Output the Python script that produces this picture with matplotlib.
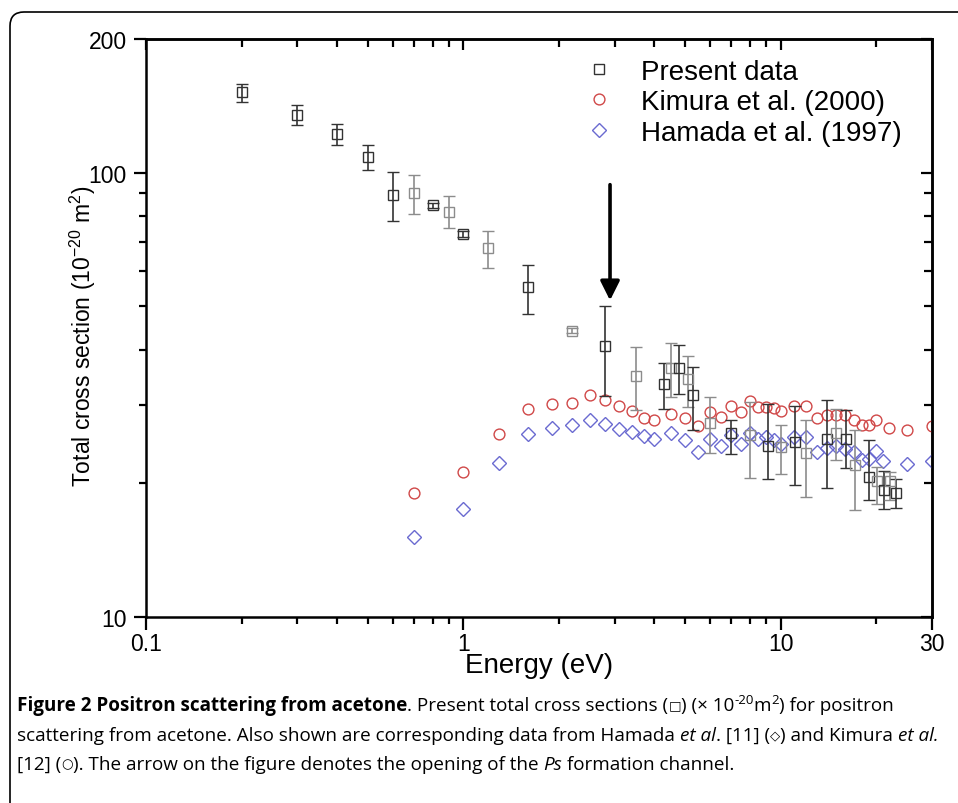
import matplotlib
matplotlib.use('Agg')
import numpy as np
import matplotlib.pyplot as plt
from matplotlib.patches import FancyBboxPatch
from matplotlib.lines import Line2D
from matplotlib.transforms import IdentityTransform

# present data (energy eV, cross section 1e-20 m^2, lower / upper error)
present_e = [0.2, 0.3, 0.4, 0.5, 0.6, 0.7, 0.8, 0.9, 1.0, 1.2, 1.6, 2.2, 2.8, 3.5,
             4.3, 4.5, 4.8, 5.1, 5.3, 6.0, 7.0, 8.0, 9.1, 10.0, 11.1, 12.0, 14.0,
             15.0, 16.1, 17.1, 19.0, 20.2, 21.2, 22.1, 23.1]
present_q = [151.7, 135.0, 122.0, 108.5, 89.0, 89.8, 84.5, 81.7, 72.8, 67.6, 55.2,
             44.1, 40.8, 34.9, 33.5, 36.3, 36.4, 34.3, 31.6, 27.3, 25.9, 25.7, 24.3,
             24.1, 24.8, 23.4, 25.1, 25.9, 25.2, 22.0, 20.7, 20.2, 19.3, 20.2, 19.05]
present_lo = [144.0, 128.3, 115.6, 101.2, 77.7, 80.7, 83.5, 75.0, 71.8, 61.1, 48.1,
              43.5, 31.4, 29.2, 29.4, 31.3, 31.7, 29.7, 26.4, 23.4, 23.3, 20.6, 20.4,
              21.0, 19.8, 18.6, 19.5, 22.6, 21.7, 17.4, 18.3, 18.0, 17.5, 18.3, 17.6]
present_hi = [158.6, 141.7, 128.7, 115.6, 100.4, 98.6, 85.5, 88.8, 73.8, 74.1, 62.0,
              44.7, 50.1, 40.5, 37.3, 41.3, 41.0, 38.7, 36.6, 31.2, 27.7, 30.5, 30.1,
              27.0, 29.8, 27.8, 30.8, 29.4, 29.2, 26.3, 25.0, 21.8, 21.3, 21.2, 20.4]

kimura_e = [0.7, 1.0, 1.3, 1.6, 1.9, 2.2, 2.5, 2.8, 3.1, 3.4, 3.7, 4.0, 4.5, 5.0,
            5.5, 6.0, 6.5, 7.0, 7.5, 8.0, 8.5, 9.0, 9.5, 10, 11, 12, 13, 14, 15,
            16, 17, 18, 19, 20, 22, 25, 30]
kimura_q = [19.0, 21.2, 25.8, 29.4, 30.2, 30.3, 31.6, 30.8, 29.8, 29.1, 28.1, 27.7,
            28.6, 28.0, 26.9, 28.9, 28.2, 29.8, 29.0, 30.6, 29.7, 29.7, 29.6, 29.1,
            29.8, 29.9, 28.1, 28.5, 28.5, 28.5, 27.8, 27.0, 27.0, 27.7, 26.7, 26.3, 26.9]

hamada_e = [0.7, 1.0, 1.3, 1.6, 1.9, 2.2, 2.5, 2.8, 3.1, 3.4, 3.7, 4.0, 4.5, 5.0,
            5.5, 6.0, 6.5, 7.0, 7.5, 8.0, 8.5, 9.0, 9.5, 10, 11, 12, 13, 14, 15,
            16, 17, 18, 19, 20, 21, 25, 30]
hamada_q = [15.1, 17.5, 22.2, 25.8, 26.7, 27.0, 27.8, 27.2, 26.5, 26.1, 25.6, 25.2,
            25.9, 25.0, 23.5, 25.2, 24.3, 25.7, 24.5, 25.9, 25.2, 25.4, 25.0, 24.5,
            25.4, 25.4, 23.5, 24.0, 24.3, 23.9, 23.5, 22.6, 22.7, 23.6, 22.4, 22.1, 22.4]

series_names = ['Present data', 'Kimura et al. (2000)', 'Hamada et al. (1997)']

ps_threshold = 2.9
arrow_top, arrow_tip = 94.0, 51.6

x_major = [0.1, 1, 10, 30]
x_major_labels = ['0.1', '1', '10', '30']
x_minor = [0.2, 0.3, 0.4, 0.5, 0.6, 0.7, 0.8, 0.9, 2, 3, 4, 5, 6, 7, 8, 9, 20]
y_major = [10, 100, 200]
y_major_labels = ['10', '100', '200']
y_minor = [20, 30, 40, 50, 60, 70, 80, 90]

plt.rcParams['font.family'] = ['Liberation Sans', 'DejaVu Sans']
plt.rcParams['mathtext.fontset'] = 'custom'
plt.rcParams['mathtext.rm'] = 'Liberation Sans'
plt.rcParams['mathtext.it'] = 'Liberation Sans:italic'

W, H = 958, 804
fig = plt.figure(figsize=(W / 100, H / 100), dpi=100)
ax = fig.add_axes([146 / W, 1 - 618 / H, (932 - 146) / W, (618 - 40) / H])

# outer frame, only the rounded top-left corner is visible
frame = FancyBboxPatch((10, -40), 1100, H - 13 + 40,
                       boxstyle='round,pad=0,rounding_size=14',
                       transform=IdentityTransform(), fill=False,
                       lw=1.2, ec='black')
fig.patches.append(frame)

sq_col = '#333333'
red = '#d04848'
blue = '#6a6ad0'

# present data, error bars alternately dark / light grey
shades = ['#333333', '#8c8c8c']
for i in range(len(present_e)):
    c = shades[i % 2] if i > 3 else sq_col
    q = present_q[i]
    ax.errorbar([present_e[i]], [q],
                yerr=[[q - present_lo[i]], [present_hi[i] - q]],
                fmt='s', ms=7.5, mfc='none', mec=c, mew=1.0,
                ecolor=c, elinewidth=1.2, capsize=4, capthick=1.2, zorder=3)

ax.plot(kimura_e, kimura_q, 'o', ms=7.8, mfc='none', mec=red, mew=1.0, zorder=2)
ax.plot(hamada_e, hamada_q, 'D', ms=7.0, mfc='none', mec=blue, mew=1.0, zorder=2)

ax.annotate('', xy=(ps_threshold, arrow_tip), xytext=(ps_threshold, arrow_top),
            arrowprops=dict(arrowstyle='-|>', lw=2.6, color='black',
                            mutation_scale=29, shrinkA=0, shrinkB=0))

ax.set_xscale('log')
ax.set_yscale('log')
ax.set_xlim(0.1, 30)
ax.set_ylim(10, 200)
ax.set_xticks(x_major)
ax.set_xticklabels(x_major_labels)
ax.set_xticks(x_minor, minor=True)
ax.set_xticklabels([], minor=True)
ax.set_yticks(y_major)
ax.set_yticklabels(y_major_labels)
ax.set_yticks(y_minor, minor=True)
ax.set_yticklabels([], minor=True)
ax.tick_params(which='major', direction='out', length=9, width=1.6,
               labelsize=16.5)
ax.tick_params(axis='x', which='major', pad=1.5)
ax.tick_params(axis='y', which='major', pad=5)
ax.tick_params(which='minor', direction='out', length=5, width=1.6)
for s in ax.spines.values():
    s.set_linewidth(1.8)

# mirrored ticks pointing inward on top and right
top = ax.secondary_xaxis('top')
top.set_xticks(x_major)
top.set_xticklabels([])
top.set_xticks(x_minor, minor=True)
top.set_xticklabels([], minor=True)
top.tick_params(which='major', direction='in', length=8, width=1.6)
top.tick_params(which='minor', direction='in', length=6, width=1.6)
top.spines['top'].set_linewidth(1.8)
right = ax.secondary_yaxis('right')
right.set_yticks(y_major)
right.set_yticklabels([])
right.set_yticks(y_minor, minor=True)
right.set_yticklabels([], minor=True)
right.tick_params(which='major', direction='in', length=8, width=1.6)
right.tick_params(which='minor', direction='in', length=6, width=1.6)
right.spines['right'].set_linewidth(1.8)

ax.set_xlabel('Energy (eV)', fontsize=20)
ax.xaxis.set_label_coords(0.5, -0.083)
ax.xaxis.label.set_va('center')
ax.set_ylabel('Total cross section (10$^{-20}$ m$^2$)', fontsize=16.5)
ax.yaxis.set_label_coords(-0.08, 0.487)
ax.yaxis.label.set_va('center')

handles = [Line2D([], [], ls='none', marker='s', ms=7.5, mfc='none', mec=sq_col),
           Line2D([], [], ls='none', marker='o', ms=7.8, mfc='none', mec=red),
           Line2D([], [], ls='none', marker='D', ms=7.0, mfc='none', mec=blue)]
ax.legend(handles, series_names,
          loc='upper left', bbox_to_anchor=(0.559, 0.966), frameon=False,
          fontsize=20, handlelength=1.0, handletextpad=1.0,
          labelspacing=0.16, borderpad=0, borderaxespad=0, numpoints=1)

# caption, drawn as runs of text in pixel coordinates
cap_family = ['Liberation Sans Narrow', 'Open Sans', 'DejaVu Sans']
caption = [
    [('Figure 2 Positron scattering from acetone', 'bold', 'normal', ''),
     ('. Present total cross sections (', 'normal', 'normal', ''),
     ('\u25a1', 'normal', 'normal', 'sym'),
     (') (\u00d7 10', 'normal', 'normal', ''),
     ('-20', 'normal', 'normal', 'sup'),
     ('m', 'normal', 'normal', ''),
     ('2', 'normal', 'normal', 'sup'),
     (') for positron', 'normal', 'normal', '')],
    [('scattering from acetone. Also shown are corresponding data from Hamada ',
      'normal', 'normal', ''),
     ('et al', 'normal', 'italic', ''),
     ('. [11] (', 'normal', 'normal', ''),
     ('\u25c7', 'normal', 'normal', 'sym'),
     (') and Kimura ', 'normal', 'normal', ''),
     ('et al.', 'normal', 'italic', '')],
    [('[12] (', 'normal', 'normal', ''),
     ('\u25cb', 'normal', 'normal', 'sym'),
     ('). The arrow on the figure denotes the opening of the ',
      'normal', 'normal', ''),
     ('Ps', 'normal', 'italic', ''),
     (' formation channel.', 'normal', 'normal', '')],
]
baselines = [711, 741, 770]
renderer = fig.canvas.get_renderer()


def draw_line(runs, x, y, size):
    objs = []
    for txt, weight, style, kind in runs:
        fs = size * 0.7 if kind else size
        dy = size * 0.55 if kind == 'sup' else (size * 0.15 if kind == 'sym' else 0)
        t = fig.text(x, y + dy, txt, transform=IdentityTransform(),
                     fontsize=fs, fontweight=weight, fontstyle=style,
                     family=cap_family, va='baseline', ha='left')
        x += t.get_window_extent(renderer).width
        objs.append(t)
    return x, objs


# fit the widest caption line to the width used in the figure
size = 40
for runs in caption[:2]:
    end, objs = draw_line(runs, 17, H - 700, 13)
    for t in objs:
        t.remove()
    size = min(size, 13 * (935 - 17) / (end - 17))
for runs, b in zip(caption, baselines):
    draw_line(runs, 17, H - b, size)

fig.savefig('out.png', dpi=100)
